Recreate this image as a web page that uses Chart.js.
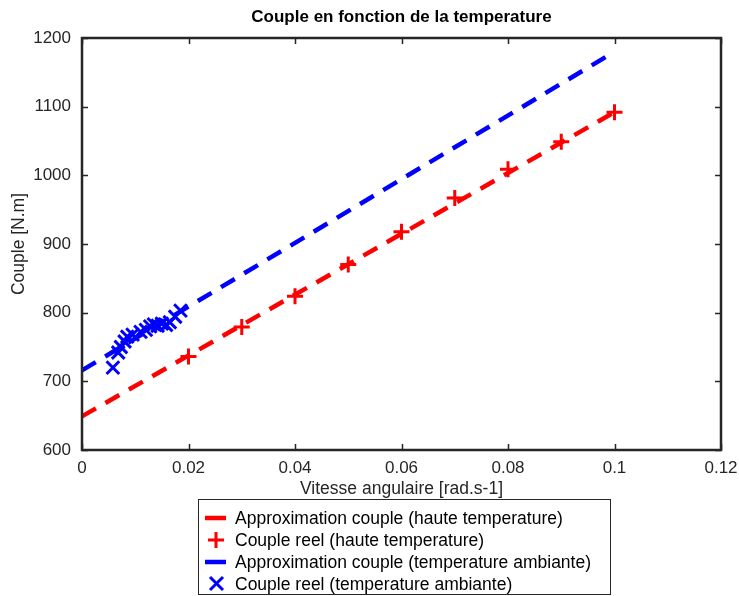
<!DOCTYPE html>
<html>
<head>
<meta charset="utf-8">
<script src="https://cdn.jsdelivr.net/npm/chart.js@4"></script>
<style>
  html, body { margin: 0; padding: 0; background: #fff; }
</style>
</head>
<body>
<canvas id="myChart" width="739" height="596"></canvas>
<script>
// approximation lines (endpoints)
let hauteLineX = [0, 0.1];
let hauteLineY = [649, 1092];
let ambLineX = [0, 0.1];
let ambLineY = [716, 1180];

// measured points, high temperature
let hauteX = [0.02, 0.03, 0.04, 0.05, 0.06, 0.07, 0.08, 0.09, 0.1];
let hauteY = [736, 779, 824, 870, 918, 967, 1009, 1049, 1092];

// measured points, ambient temperature
let ambX = [0.0058, 0.0068, 0.0073, 0.0080, 0.0085, 0.0095, 0.0110, 0.0120, 0.0128, 0.0135, 0.0142, 0.0150, 0.0158, 0.0165, 0.0175, 0.0185];
let ambY = [720, 742, 750, 758, 765, 768, 772, 775, 780, 783, 781, 784, 782, 786, 794, 803];

let xTicks = [0, 0.02, 0.04, 0.06, 0.08, 0.1, 0.12];
let yTicks = [600, 700, 800, 900, 1000, 1100, 1200];

let legendLabels = [
    'Approximation couple (haute temperature)',
    'Couple reel (haute temperature)',
    'Approximation couple (temperature ambiante)',
    'Couple reel (temperature ambiante)'
];

function pts(xs, ys) {
    return xs.map((x, i) => ({ x: x, y: ys[i] }));
}

const dark = '#262626';
const font = '"Liberation Sans", Arial, Helvetica, sans-serif';

const framePlugin = {
    id: 'frame',
    afterDraw(chart) {
        const ctx = chart.ctx;
        const a = chart.chartArea;
        const x = chart.scales.x, y = chart.scales.y;
        ctx.save();
        // inward ticks
        ctx.strokeStyle = dark;
        ctx.lineWidth = 1.5;
        ctx.beginPath();
        xTicks.forEach(v => {
            const px = Math.round(x.getPixelForValue(v)) + 0.5;
            ctx.moveTo(px, a.bottom); ctx.lineTo(px, a.bottom - 6);
            ctx.moveTo(px, a.top); ctx.lineTo(px, a.top + 6);
        });
        yTicks.forEach(v => {
            const py = Math.round(y.getPixelForValue(v)) + 0.5;
            ctx.moveTo(a.left, py); ctx.lineTo(a.left + 6, py);
            ctx.moveTo(a.right, py); ctx.lineTo(a.right - 6, py);
        });
        ctx.stroke();
        // box
        ctx.lineWidth = 2.5;
        ctx.strokeRect(a.left, a.top, a.right - a.left, a.bottom - a.top);

        // title
        ctx.fillStyle = '#000';
        ctx.textAlign = 'center';
        ctx.textBaseline = 'middle';
        ctx.font = 'bold 17px ' + font;
        ctx.fillText('Couple en fonction de la temperature', (a.left + a.right) / 2, 17);

        // axis titles
        ctx.fillStyle = dark;
        ctx.font = '17.5px ' + font;
        ctx.fillText('Vitesse angulaire [rad.s-1]', (a.left + a.right) / 2, 489);
        ctx.save();
        ctx.translate(19, (a.top + a.bottom) / 2);
        ctx.rotate(-Math.PI / 2);
        ctx.fillText('Couple [N.m]', 0, 0);
        ctx.restore();

        // legend
        ctx.lineWidth = 1;
        ctx.strokeStyle = dark;
        ctx.fillStyle = '#fff';
        ctx.fillRect(198.5, 499.5, 412, 95);
        ctx.strokeRect(198.5, 499.5, 412, 95);
        const rows = [518, 540, 562, 584];
        const colors = ['#ff0000', '#ff0000', '#0000ff', '#0000ff'];
        rows.forEach((ry, i) => {
            ctx.strokeStyle = colors[i];
            ctx.beginPath();
            if (i === 0 || i === 2) {
                ctx.lineWidth = 4.5;
                ctx.moveTo(205, ry); ctx.lineTo(226, ry);
            } else if (i === 1) {
                ctx.lineWidth = 3;
                ctx.moveTo(216, ry - 8); ctx.lineTo(216, ry + 8);
                ctx.moveTo(208, ry); ctx.lineTo(224, ry);
            } else {
                ctx.lineWidth = 3;
                ctx.moveTo(210, ry - 7); ctx.lineTo(223, ry + 6);
                ctx.moveTo(210, ry + 6); ctx.lineTo(223, ry - 7);
            }
            ctx.stroke();
            ctx.fillStyle = '#000';
            ctx.textAlign = 'left';
            ctx.fillText(legendLabels[i], 235, ry + 1);
        });
        ctx.restore();
    }
};

let myChart1 = document.getElementById('myChart').getContext('2d');

let chart1 = new Chart(myChart1, {
    type: 'scatter',
    data: {
        datasets: [{
            label: legendLabels[0],
            data: pts(hauteLineX, hauteLineY),
            showLine: true,
            borderColor: '#ff0000',
            borderWidth: 4.5,
            borderDash: [16, 11],
            pointRadius: 0,
            borderCapStyle: 'butt'
        }, {
            label: legendLabels[1],
            data: pts(hauteX, hauteY),
            showLine: false,
            pointStyle: 'cross',
            pointRadius: 8,
            borderWidth: 3,
            borderColor: '#ff0000',
            backgroundColor: '#ff0000'
        }, {
            label: legendLabels[2],
            data: pts(ambLineX, ambLineY),
            showLine: true,
            borderColor: '#0000ff',
            borderWidth: 4.5,
            borderDash: [16, 11],
            pointRadius: 0,
            borderCapStyle: 'butt'
        }, {
            label: legendLabels[3],
            data: pts(ambX, ambY),
            showLine: false,
            pointStyle: 'crossRot',
            pointRadius: 9,
            borderWidth: 3,
            borderColor: '#0000ff',
            backgroundColor: '#0000ff'
        }]
    },
    options: {
        responsive: false,
        animation: false,
        layout: { padding: { top: 38, right: 18, left: 0, bottom: 0 } },
        plugins: {
            legend: { display: false },
            title: { display: false },
            tooltip: { enabled: false }
        },
        scales: {
            x: {
                type: 'linear',
                min: 0,
                max: 0.12,
                afterFit: s => { s.height = 146; s.paddingLeft = 0; s.paddingRight = 0; },
                afterBuildTicks: s => { s.ticks = xTicks.map(v => ({ value: v })); },
                grid: { display: false, drawTicks: false },
                border: { display: false },
                ticks: {
                    color: dark,
                    font: { size: 17, family: font },
                    padding: 8,
                    maxRotation: 0,
                    autoSkip: false,
                    callback: v => String(parseFloat(v.toFixed(2)))
                }
            },
            y: {
                type: 'linear',
                min: 600,
                max: 1200,
                afterFit: s => { s.width = 82; s.paddingTop = 0; s.paddingBottom = 0; },
                afterBuildTicks: s => { s.ticks = yTicks.map(v => ({ value: v })); },
                grid: { display: false, drawTicks: false },
                border: { display: false },
                ticks: {
                    color: dark,
                    font: { size: 17, family: font },
                    padding: 11,
                    autoSkip: false,
                    callback: v => String(v)
                }
            }
        }
    },
    plugins: [framePlugin]
});
</script>
</body>
</html>
